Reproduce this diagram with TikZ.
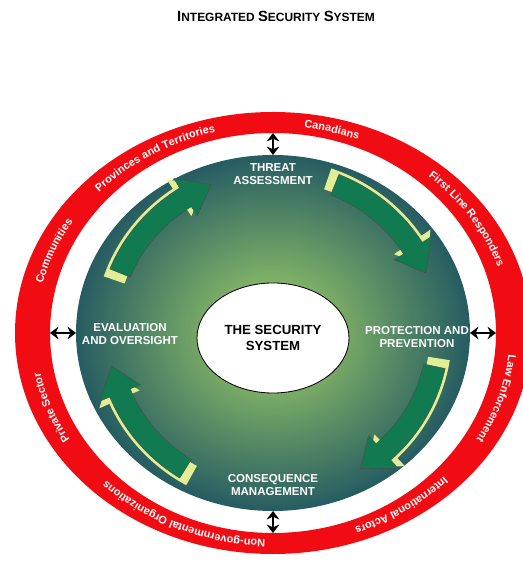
\documentclass[tikz,border=0pt]{standalone}
\usepackage{fontspec}
\setmainfont{Liberation Sans}
\usepackage{tikz}
\usetikzlibrary{arrows.meta, shapes.geometric, decorations.text, positioning}
\definecolor{colorRing}{RGB}{240,12,18}
\definecolor{colorDiscIn}{RGB}{165,212,105}
\definecolor{colorDiscOut}{RGB}{38,92,98}
\definecolor{colorCycle}{RGB}{18,122,80}
\definecolor{colorCycleLight}{RGB}{226,238,150}
\newcommand{\ringfont}{\fontsize{7.8}{9}\selectfont\bfseries}
\newcommand{\phasefont}{\fontsize{8.2}{9.4}\selectfont\bfseries}
\tikzset{
  ringtext/.style={decorate, decoration={text along path, text align=center, text color=white, text={|\ringfont|#1}}},
  phase/.style={text=white, font=\phasefont, align=center},
  link/.style={line width=2pt, {Stealth[length=6pt,width=9pt]}-{Stealth[length=6pt,width=9pt]}},
}
\newcommand{\arrowpath}[3]{({#1}:{176+#3} and {171+#3})
  arc[start angle={#1}, end angle={#2+10}, x radius={176+#3}, y radius={171+#3}]
  -- ({#2+10}:{187+#3} and {182+#3}) -- ({#2}:{165+#3} and {160+#3})
  -- ({#2+10}:{143+#3} and {138+#3}) -- ({#2+10}:{154+#3} and {149+#3})
  arc[start angle={#2+10}, end angle={#1}, x radius={154+#3}, y radius={149+#3}] -- cycle}
\newcommand{\cyclearrow}[2]{%
  \fill[colorCycleLight] \arrowpath{#1+3}{#2+2}{3};
  \filldraw[fill=colorCycle, draw=black!70, line width=0.3pt] \arrowpath{#1}{#2}{0};
}

\begin{document}
\begin{tikzpicture}[x=0.025cm, y=0.025cm]
\useasboundingbox (-273,-230) rectangle (250,333);
\clip (-273,-230) rectangle (250,333);
\node[font=\fontsize{8.5}{10}\selectfont\bfseries] (title) at (3,317) {{\fontsize{10.5}{12}\selectfont I}NTEGRATED {\fontsize{10.5}{12}\selectfont S}ECURITY {\fontsize{10.5}{12}\selectfont S}YSTEM};
% partners ring
\fill[colorRing, even odd rule] (0,0) ellipse[x radius=258, y radius=221] (0,0) ellipse[x radius=223, y radius=200];
\path[ringtext={Canadians}] (115:237 and 207) arc[start angle=115, end angle=35, x radius=237, y radius=207];
\path[ringtext={Provinces and Territories}] (167:237 and 207) arc[start angle=167, end angle=77, x radius=237, y radius=207];
\path[ringtext={Communities}] (198:237 and 207) arc[start angle=198, end angle=118, x radius=237, y radius=207];
\path[ringtext={Private Sector}] (240:237 and 207) arc[start angle=240, end angle=160, x radius=237, y radius=207];
\path[ringtext={Non-governmental Organizations}] (305:237 and 207) arc[start angle=305, end angle=185, x radius=237, y radius=207];
\path[ringtext={International Actors}] (-5:237 and 207) arc[start angle=-5, end angle=-105, x radius=237, y radius=207];
\path[ringtext={Law Enforcement}] (25:237 and 207) arc[start angle=25, end angle=-60, x radius=237, y radius=207];
\path[ringtext={First Line Responders}] (80:237 and 207) arc[start angle=80, end angle=-16, x radius=237, y radius=207];
% security system
\shade[inner color=colorDiscIn, outer color=colorDiscOut] (0,0) ellipse[x radius=197, y radius=178];
\cyclearrow{158}{112}
\cyclearrow{68}{22}
\cyclearrow{-12}{-58}
\cyclearrow{238}{192}
\node[phase] (threat) at (0,159) {THREAT\\ASSESSMENT};
\node[phase] (protect) at (144,-4) {PROTECTION AND\\PREVENTION};
\node[phase] (conseq) at (0,-152) {CONSEQUENCE\\MANAGEMENT};
\node[phase] (evaluate) at (-143,-1) {EVALUATION\\AND OVERSIGHT};
\node[ellipse, draw, line width=0.6pt, fill=white, minimum width=3.8cm, minimum height=2.75cm, align=center, font=\fontsize{9.4}{11.3}\selectfont\bfseries] (core) at (0,-5) {THE SECURITY\\SYSTEM};
\coordinate (ringN) at (0,200);
\coordinate (discN) at (0,178);
\coordinate (ringS) at (0,-200);
\coordinate (discS) at (0,-178);
\coordinate (ringW) at (-223,0);
\coordinate (discW) at (-197,0);
\coordinate (ringE) at (223,0);
\coordinate (discE) at (197,0);
\draw[link] (ringN) -- (discN);
\draw[link] (ringS) -- (discS);
\draw[link] (ringW) -- (discW);
\draw[link] (ringE) -- (discE);
\end{tikzpicture}
\end{document}
